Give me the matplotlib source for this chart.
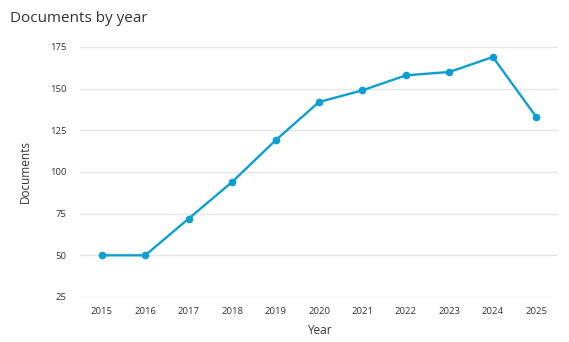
import matplotlib.pyplot as plt

# data
years = [2015, 2016, 2017, 2018, 2019, 2020, 2021, 2022, 2023, 2024, 2025]
documents = [50, 50, 72, 94, 119, 142, 149, 158, 160, 169, 133]
y_ticks = [25, 50, 75, 100, 125, 150, 175]

line_color = '#0e9ed3'
text_color = '#333333'
grid_color = '#e6e6ea'

plt.rcParams['font.family'] = ['Open Sans', 'DejaVu Sans']

fig = plt.figure(figsize=(5.69, 3.42), dpi=100)
ax = fig.add_axes([0.1406, 0.1316, 0.8401, 0.731])

ax.plot(years, documents, color=line_color, linewidth=1.7,
        marker='o', markersize=4.5, zorder=3)

ax.set_xlim(2014.5, 2025.5)
ax.set_ylim(25, 175)
ax.set_xticks(years)
ax.set_yticks(y_ticks)
ax.tick_params(axis='both', length=0, labelsize=6.8, labelcolor=text_color)
ax.tick_params(axis='x', pad=7)
ax.tick_params(axis='y', pad=10)

ax.grid(axis='y', color=grid_color, linewidth=0.9)
ax.set_axisbelow(True)
for s in ax.spines.values():
    s.set_visible(False)

ax.set_xlabel('Year', fontsize=8.5, color=text_color, labelpad=6)
ax.set_ylabel('Documents', fontsize=8.5, color=text_color, labelpad=13)

fig.text(0.0176, 0.947, 'Documents by year', fontsize=11, color=text_color,
         ha='left', va='center')

fig.savefig('out.png', dpi=100)
